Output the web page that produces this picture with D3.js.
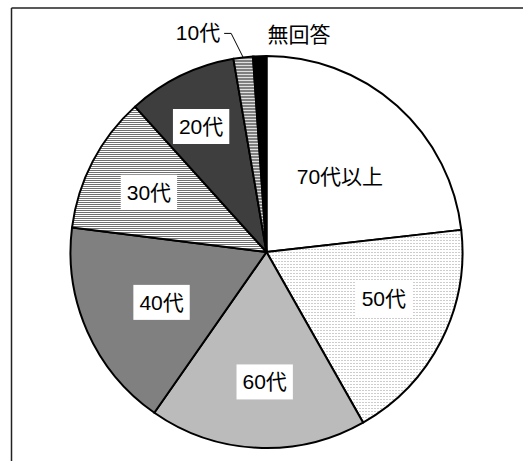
<!DOCTYPE html>
<html><head><meta charset="utf-8">
<script src="https://cdn.jsdelivr.net/npm/d3@7/dist/d3.min.js"></script>
<style>body{margin:0;background:#fff}svg{display:block}</style>
</head><body>
<svg id="c" width="523" height="461"></svg>
<script>
const categories = ["70代以上","50代","60代","40代","30代","20代","10代","無回答"];
const values = [23.2, 18.6, 17.9, 17.3, 11.3, 9.0, 1.6, 1.1];
const fills = ["#ffffff","url(#p50)","url(#p60)","#808080","url(#p30)","url(#p20)","url(#p10)","#000000"];

const svg = d3.select("#c");
const defs = svg.append("defs");
function pat(id, w, h, bg, rects){
  const p = defs.append("pattern").attr("id", id).attr("patternUnits","userSpaceOnUse").attr("width", w).attr("height", h);
  p.append("rect").attr("width", w).attr("height", h).attr("fill", bg);
  rects.forEach(r => p.append("rect").attr("x", r[0]).attr("y", r[1]).attr("width", r[2]).attr("height", r[3]).attr("fill", r[4]));
}
pat("p50", 3, 3, "#ffffff", [[0,0,1,1,"#9a9a9a"]]);
pat("p60", 2, 2, "#d6d6d6", [[0,0,1,1,"#a0a0a0"],[1,1,1,1,"#a0a0a0"]]);
pat("p30", 2, 2, "#ffffff", [[0,0,2,1,"#707070"]]);
pat("p20", 2, 2, "#555555", [[0,0,1,1,"#262626"],[1,1,1,1,"#262626"]]);
pat("p10", 3, 3, "#e0e0e0", [[0,0,3,2,"#808080"]]);

// frame (only top and left edges visible)
svg.append("line").attr("x1", 11.5).attr("y1", 8).attr("x2", 523).attr("y2", 8).attr("stroke", "#222").attr("stroke-width", 1.5);
svg.append("line").attr("x1", 11.5).attr("y1", 8).attr("x2", 11.5).attr("y2", 461).attr("stroke", "#222").attr("stroke-width", 1.5);

const cx = 266.5, cy = 252, R = 196;
const pie = d3.pie().sort(null).value(d => d)(values);
const arc = d3.arc().innerRadius(0).outerRadius(R);
const g = svg.append("g").attr("transform", `translate(${cx},${cy})`);
g.selectAll("path").data(pie).join("path")
  .attr("d", arc)
  .attr("fill", (d,i) => fills[i])
  .attr("stroke", "#000").attr("stroke-width", 2).attr("stroke-linejoin","round");

// label placement: radius fraction and angular offset (degrees) from slice middle
const labelR = [0.536, 0.645, 0.663, 0.594, 0.673, 0.722];
const labelDA = [2.6, -5.2, -1.9, -1.7, -0.6, -1.6];
const font = "'Liberation Sans', Arial, 'Noto Sans CJK JP', sans-serif";
const FS = 21;
labelR.forEach((rf, i) => {
  const d = pie[i];
  const a = (d.startAngle + d.endAngle)/2 + labelDA[i]*Math.PI/180;
  const x = Math.sin(a)*R*rf, y = -Math.cos(a)*R*rf;
  const t = g.append("text").attr("x", x).attr("y", y).attr("text-anchor","middle").attr("dominant-baseline","central")
    .attr("font-family", font).attr("font-size", FS).attr("fill","#000").text(categories[i]);
  const bb = t.node().getBBox();
  if (i > 0) g.insert("rect", "text").attr("x", bb.x - 6).attr("y", y - 17.5).attr("width", bb.width + 12).attr("height", 35).attr("fill", "#fff");
});
g.selectAll("text").raise();

// outside labels
const d10 = pie[6];
const a10 = (d10.startAngle + d10.endAngle)/2;
const px = Math.sin(a10)*R, py = -Math.cos(a10)*R;
g.append("polyline").attr("points", [[px, py],[px-12, py-24],[px-19, py-24]].map(p=>p.join(",")).join(" "))
  .attr("fill","none").attr("stroke","#000").attr("stroke-width",1);
g.append("text").attr("x", px-23).attr("y", py-25).attr("text-anchor","end").attr("dominant-baseline","central")
  .attr("font-family", font).attr("font-size", FS).text(categories[6]);
g.append("text").attr("x", 32.5).attr("y", -R-22).attr("text-anchor","middle").attr("dominant-baseline","central")
  .attr("font-family", font).attr("font-size", FS).text(categories[7]);
</script>
</body></html>
